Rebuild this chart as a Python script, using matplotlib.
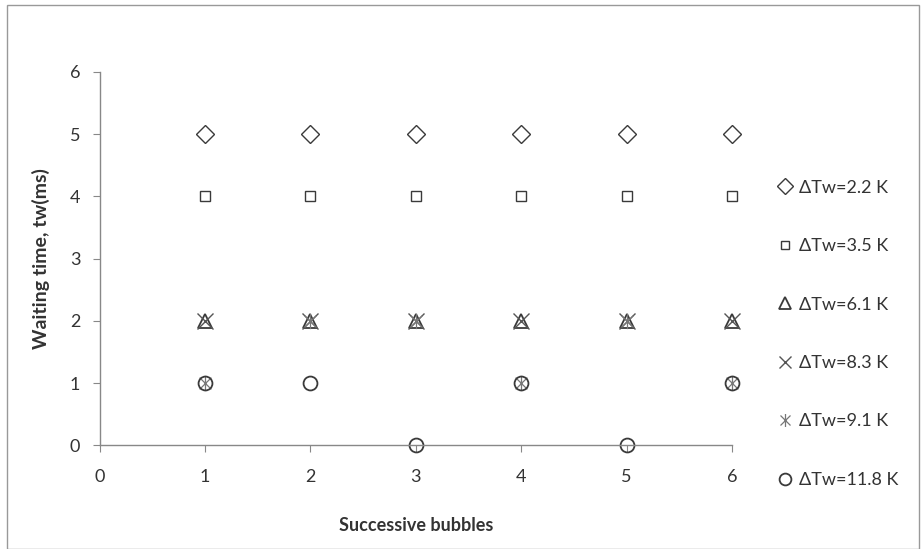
import matplotlib.pyplot as plt
from matplotlib.path import Path
from matplotlib.patches import Rectangle

plt.rcParams['font.family'] = ['Lato', 'DejaVu Sans']

bubbles = [1, 2, 3, 4, 5, 6]
labels = ['ΔTw=2.2 K', 'ΔTw=3.5 K', 'ΔTw=6.1 K', 'ΔTw=8.3 K', 'ΔTw=9.1 K', 'ΔTw=11.8 K']
tw_22 = [5, 5, 5, 5, 5, 5]
tw_35 = [4, 4, 4, 4, 4, 4]
tw_61 = [2, 2, 2, 2, 2, 2]
tw_83 = [2, 2, 2, 2, 2, 2]
tw_91 = [1, 2, 2, 1, 2, 1]
tw_118 = [1, 1, 0, 1, 0, 1]

# X with a vertical bar, like the spreadsheet "star" marker
star = Path([(-1, -1), (1, 1), (-1, 1), (1, -1), (0, -1.3), (0, 1.3)],
            [Path.MOVETO, Path.LINETO, Path.MOVETO, Path.LINETO, Path.MOVETO, Path.LINETO])

ec = '#3a3a3a'
fig = plt.figure(figsize=(9.23, 5.49), dpi=100)
ax = fig.add_axes([0.108, 0.189, 0.685, 0.680])

ax.plot(bubbles, tw_22, 'D', ms=9, mfc='none', mec=ec, mew=1.0, label=labels[0])
ax.plot(bubbles, tw_35, 's', ms=7.5, mfc='none', mec=ec, mew=1.0, label=labels[1])
ax.plot(bubbles, tw_61, '^', ms=10, mfc='none', mec=ec, mew=1.3, label=labels[2])
ax.plot(bubbles, tw_83, 'x', ms=11, mec='#555555', mew=1.0, label=labels[3])
ax.plot(bubbles, tw_91, marker=star, ls='none', ms=11, mec='#777777', mew=0.9, label=labels[4])
ax.plot(bubbles, tw_118, 'o', ms=10, mfc='none', mec=ec, mew=1.3, label=labels[5])

ax.set_xlim(0, 6)
ax.set_ylim(0, 6)
ax.set_xticks(range(7))
ax.set_yticks(range(7))
for line in ax.lines:
    line.set_clip_on(False)

for s in ['top', 'right']:
    ax.spines[s].set_visible(False)
for s in ['left', 'bottom']:
    ax.spines[s].set_color('#888888')
    ax.spines[s].set_linewidth(1.0)
ax.tick_params(direction='out', length=5, color='#888888', labelsize=13,
               labelcolor='#333333', pad=9)
ax.tick_params(axis='x', pad=12)

ax.set_xlabel('Successive bubbles', fontsize=13, fontweight='bold', color='#333333', labelpad=23)
ax.set_ylabel('Waiting time, tw(ms)', fontsize=14, fontweight='bold', color='#333333', labelpad=14)

leg = ax.legend(loc='center left', bbox_to_anchor=(0.825, 0.392), bbox_transform=fig.transFigure,
                frameon=False, fontsize=13, labelspacing=2.35, handlelength=0.8,
                handletextpad=0.4, markerscale=0.85)
for t in leg.get_texts():
    t.set_color('#333333')

fig.patches.append(Rectangle((0.008, 0.0), 0.988, 0.99, transform=fig.transFigure,
                             fill=False, ec='#999999', lw=1.0))

fig.savefig('out.png', dpi=100)
